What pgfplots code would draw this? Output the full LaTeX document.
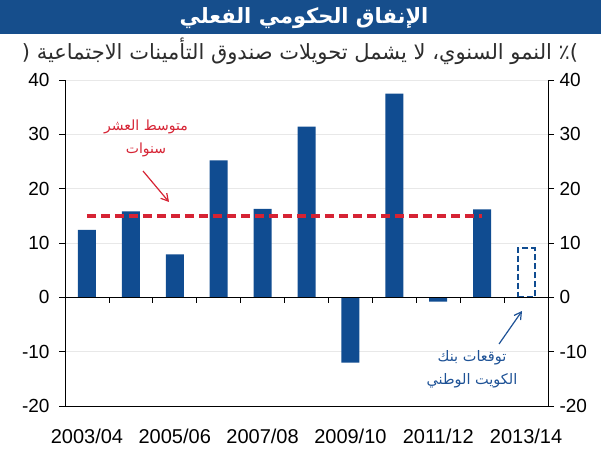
\documentclass[border=0pt]{standalone}
\usepackage{pgfplots}
\pgfplotsset{compat=1.18}
\usepackage{fontspec}
\setmainfont{Liberation Sans}
\newfontfamily\arabicfont[Script=Arabic]{DejaVu Sans}
\TeXXeTstate=1
\usetikzlibrary{arrows.meta}
\definecolor{barblue}{RGB}{16,76,145}
\definecolor{bannerblue}{RGB}{22,78,140}
\definecolor{subgray}{RGB}{45,45,45}
\definecolor{avgred}{RGB}{214,35,52}
\definecolor{annblue}{RGB}{30,82,150}
\definecolor{gridgray}{RGB}{232,232,232}
\begin{document}
\begin{tikzpicture}
\useasboundingbox (0pt,0pt) rectangle (601pt,450pt);
\fill[bannerblue] (0pt,416pt) rectangle (601pt,450pt);
\node[text=white,font=\arabicfont\bfseries\fontsize{21}{25}\selectfont] at (304pt,432pt) {\beginR الإنفاق الحكومي الفعلي\endR};
\node[text=subgray,font=\arabicfont\fontsize{21}{24}\selectfont] at (300pt,399pt) {( \beginR٪ النمو السنوي، لا يشمل تحويلات صندوق التأمينات الاجتماعية\endR)};
\begin{axis}[
  at={(65pt,44pt)}, anchor=south west, scale only axis,
  width=483pt, height=326pt,
  xmin=-0.5, xmax=10.5, ymin=-20, ymax=40,
  axis y line*=left, axis x line*=bottom,
  axis line style={black, line width=0.8pt},
  ytick={-20,-10,...,40},
  ymajorgrids, grid style={gridgray, line width=0.8pt},
  tick style={black, line width=0.8pt},
  major tick length=6pt, tick align=outside,
  /pgf/number format/assume math mode=true,
  yticklabel style={font=\fontsize{19}{22}\selectfont, xshift=-6pt},
  xtick={0,2,4,6,8,10},
  xticklabels={2003/04,2005/06,2007/08,2009/10,2011/12,2013/14},
  x tick style={draw=none},
  xticklabel style={font=\fontsize{20}{23}\selectfont, yshift=-13pt},
  clip=false,
]
\addplot[ybar, bar width=18pt, bar shift=0pt, fill=barblue, draw=none]
  coordinates {(0,12.4) (1,15.8) (2,7.9) (3,25.2) (4,16.3) (5,31.4) (6,-12.0) (7,37.5) (8,-0.8) (9,16.2)};
\addplot[ybar, bar width=17pt, bar shift=0pt, fill=white, draw=barblue, line width=2pt, dash pattern=on 6pt off 3pt]
  coordinates {(10,9.0)};
\draw[black, line width=0.8pt] (axis cs:-0.5,0) -- (axis cs:10.5,0);
\pgfplotsinvokeforeach{0.5,1.5,2.5,3.5,4.5,5.5,6.5,7.5,8.5,9.5}{
  \draw[black, line width=0.8pt] (axis cs:#1,0) -- ++(0pt,-6pt);
}
\addplot[avgred, line width=3.8pt, dash pattern=on 9pt off 5pt] coordinates {(0,15) (9,15)};
\end{axis}
\begin{axis}[
  at={(65pt,44pt)}, anchor=south west, scale only axis,
  width=483pt, height=326pt,
  xmin=-0.5, xmax=10.5, ymin=-20, ymax=40,
  axis y line*=right, axis x line=none,
  axis line style={black, line width=0.8pt},
  ytick={-20,-10,...,40},
  tick style={black, line width=0.8pt},
  major tick length=6pt, tick align=outside,
  /pgf/number format/assume math mode=true,
  yticklabel style={font=\fontsize{19}{22}\selectfont, xshift=2pt},
]
\addplot[draw=none] coordinates {(0,0)};
\end{axis}
\node[text=avgred,font=\arabicfont\fontsize{14}{17}\selectfont] at (146pt,323pt) {\beginR متوسط العشر\endR};
\node[text=avgred,font=\arabicfont\fontsize{14}{17}\selectfont] at (146pt,300pt) {\beginR سنوات\endR};
\draw[avgred, line width=1.2pt, -{Straight Barb[length=7pt,width=8pt]}] (143pt,279pt) -- (169pt,248pt);
\node[text=annblue,font=\arabicfont\fontsize{14.5}{17}\selectfont] at (472pt,92pt) {\beginR توقعات بنك\endR};
\node[text=annblue,font=\arabicfont\fontsize{14.5}{17}\selectfont] at (472pt,69pt) {\beginR الكويت الوطني\endR};
\draw[annblue, line width=1.2pt, -{Straight Barb[length=7pt,width=8pt]}] (499pt,106pt) -- (522pt,139pt);
\end{tikzpicture}
\end{document}
